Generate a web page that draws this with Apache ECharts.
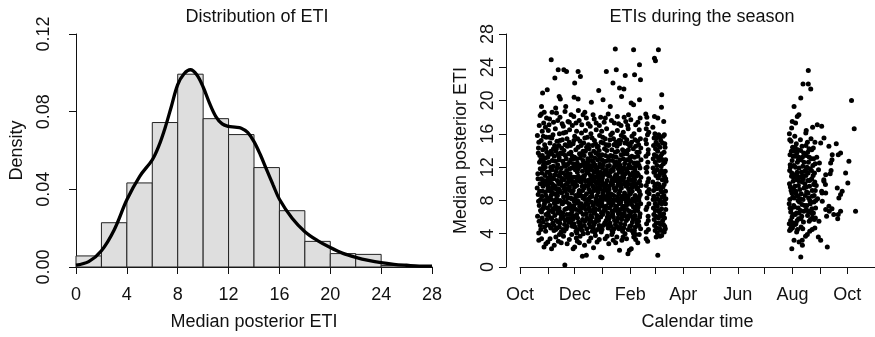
<!DOCTYPE html>
<html>
<head>
<meta charset="utf-8">
<script src="https://cdn.jsdelivr.net/npm/echarts@6/dist/echarts.min.js"></script>
<style>
  html, body { margin: 0; padding: 0; background: #fff; }
  #chart { width: 875px; height: 337px; }
</style>
</head>
<body>
<div id="chart"></div>
<script>
// histogram bins (width 2) and their densities
const binStart = [0, 2, 4, 6, 8, 10, 12, 14, 16, 18, 20, 22, 24, 26];
const binDensity = [0.0057, 0.0228, 0.0433, 0.0744, 0.0993, 0.0764, 0.0682, 0.0512, 0.029, 0.0132, 0.0069, 0.0065, 0.0008, 0.0003];

// kernel density curve
const curveX = [0, 1, 2, 3, 4, 5, 6, 6.5, 7, 7.5, 8, 8.5, 9, 9.5, 10, 10.5, 11, 11.5, 12, 12.5, 13, 13.5, 14, 14.5, 15, 15.5, 16, 17, 18, 19, 20, 21, 22, 23, 24, 25, 26, 27, 28];
const curveY = [0.001, 0.0028, 0.0084, 0.0191, 0.0346, 0.0466, 0.0552, 0.0621, 0.0715, 0.0827, 0.0939, 0.0995, 0.1016, 0.099, 0.0927, 0.0844, 0.0775, 0.0737, 0.0724, 0.072, 0.0715, 0.0693, 0.0646, 0.0578, 0.05, 0.0423, 0.0349, 0.0251, 0.0182, 0.0136, 0.01, 0.007, 0.005, 0.0034, 0.0022, 0.0014, 0.0009, 0.0005, 0.0005];

// calendar axis
const monthTicks = ['2012-10-01', '2012-11-01', '2012-12-01', '2013-01-01', '2013-02-01', '2013-03-01', '2013-04-01',
  '2013-05-01', '2013-06-01', '2013-07-01', '2013-08-01', '2013-09-01', '2013-10-01', '2013-11-01'];
const labelDates = ['2012-10-01', '2012-12-01', '2013-02-01', '2013-04-01', '2013-06-01', '2013-08-01', '2013-10-01'];
const labelNames = ['Oct', 'Dec', 'Feb', 'Apr', 'Jun', 'Aug', 'Oct'];
const seasonStart = '2012-10-01';
const seasonEnd = '2013-11-01';

// [days since 1 Oct, median posterior ETI]
const winterSparse = [
  [34.8, 24.9], [38.9, 22.7], [42.6, 23.7], [48.9, 23.7], [51.9, 23.5], [43.7, 20.5], [45.0, 20.2], [30.4, 21.3], [25.2, 20.9],
  [24.0, 19.3], [40.7, 18.5], [51.0, 19.3], [57.0, 18.3], [60.0, 18.1], [61.0, 22.1], [64.8, 23.5], [67.4, 22.9], [60.4, 20.4],
  [64.8, 20.2], [70.4, 18.3], [81.5, 18.3], [79.6, 19.8], [87.8, 21.2], [96.3, 23.5], [92.6, 20.1], [100.7, 19.3], [106.3, 26.2],
  [107.4, 23.7], [103.7, 22.1], [115.9, 21.4], [113.3, 20.5], [117.4, 23.0], [126.7, 26.1], [127.8, 23.1], [133.3, 24.3],
  [134.4, 22.5], [124.0, 19.7], [126.7, 19.5], [133.3, 20.1], [111.0, 21.5], [95.2, 17.9], [22.5, 18.2], [27.0, 18.6],
  [33.0, 17.8], [47.0, 17.2], [55.0, 17.4], [66.0, 17.6], [74.0, 17.9], [85.0, 17.3], [90.0, 18.0], [102.0, 17.6],
  [110.0, 17.2], [118.0, 17.5], [121.0, 18.3], [129.0, 17.1],
  [21.5, 17.0], [23.8, 18.4], [26.4, 17.3], [29.6, 17.9], [32.4, 17.1], [35.8, 18.6], [37.4, 17.4], [39.8, 19.1], [42.1, 17.6],
  [44.6, 18.0], [48.3, 16.9], [50.2, 18.7], [53.6, 17.5], [58.4, 17.0], [62.5, 17.3], [65.1, 18.8], [68.9, 17.1], [72.3, 18.6],
  [76.1, 17.2], [78.3, 16.9], [82.8, 17.8], [88.5, 17.0], [93.9, 17.4], [98.4, 18.4], [105.2, 17.3], [108.6, 18.1], [112.7, 17.0],
  [116.2, 18.0], [120.1, 17.0], [123.6, 17.7], [131.5, 17.4], [134.0, 17.9],
  [50.0, 0.24], [35.2, 2.2], [59.3, 2.2], [61.0, 2.4], [69.6, 1.3], [74.0, 1.4], [90.0, 1.2], [91.5, 1.1], [111.0, 2.0],
  [120.4, 1.6], [122.0, 2.0], [124.1, 2.2], [28.9, 2.8], [24.0, 3.4], [31.0, 3.0], [40.0, 3.6], [46.0, 2.9], [55.0, 3.3],
  [64.0, 3.1], [72.0, 2.6], [79.0, 3.5], [86.0, 3.0], [95.0, 3.4], [99.0, 2.8], [104.0, 3.2], [115.0, 3.6], [129.0, 3.3],
  [133.0, 3.9], [44.0, 3.9], [67.0, 3.7], [82.0, 2.3], [108.0, 3.6],
  [21.0, 3.2], [26.8, 2.4], [33.5, 3.4], [38.2, 2.6], [42.8, 3.1], [48.5, 3.7], [52.6, 2.8], [57.7, 3.9], [62.8, 3.5], [66.3, 2.9],
  [77.0, 3.1], [84.1, 3.8], [88.4, 3.3], [97.2, 3.7], [102.4, 3.9], [106.7, 2.9], [113.6, 3.2], [118.8, 3.4], [126.9, 3.6], [131.4, 2.9]
];

const winterCore = [
  [19.4, 15.8], [20.6, 14.3], [21.8, 12.6], [19.9, 11.2], [22.4, 10.0], [20.3, 8.7], [21.5, 7.4], [19.6, 6.1], [22.8, 5.0], [20.9, 4.1], [22.1, 13.4], [19.2, 9.5], [23.0, 8.1],
  [23.6, 15.2], [25.4, 14.1], [24.2, 12.9], [26.3, 11.8], [23.9, 10.6], [25.7, 9.7], [24.5, 8.5], [26.7, 7.3], [24.0, 6.6], [25.9, 5.4], [23.3, 4.5], [26.1, 12.2], [24.8, 16.3], [25.1, 10.1],
  [27.5, 14.7], [29.2, 15.6], [28.1, 13.1], [30.4, 12.5], [27.8, 11.0], [29.6, 9.9], [28.4, 9.0], [30.7, 8.2], [27.3, 7.6], [29.0, 6.3], [30.2, 5.1], [28.6, 4.3], [31.0, 10.7], [29.9, 13.8],
  [31.6, 16.4], [33.4, 14.9], [32.1, 13.5], [34.2, 12.0], [31.9, 11.4], [33.7, 10.3], [32.5, 9.2], [34.6, 8.6], [31.3, 7.9], [33.0, 6.8], [34.9, 5.9], [32.7, 5.0], [33.9, 11.1], [31.8, 9.6],
  [35.5, 15.5], [37.3, 14.2], [36.0, 12.8], [38.1, 13.3], [35.8, 11.7], [37.6, 10.6], [36.4, 9.5], [38.5, 8.8], [35.2, 8.1], [37.0, 7.0], [38.8, 6.2], [36.6, 5.3], [37.9, 4.4], [35.9, 10.0],
  [39.4, 16.6], [41.2, 15.1], [39.9, 13.9], [42.0, 12.3], [40.3, 11.5], [41.7, 10.4], [39.2, 9.7], [42.5, 9.0], [40.8, 8.2], [39.6, 7.3], [42.2, 6.5], [40.5, 5.6], [41.4, 4.7], [42.8, 11.0], [40.1, 8.7],
  [43.3, 14.6], [45.1, 13.7], [43.8, 12.9], [46.0, 11.9], [44.2, 10.9], [45.6, 10.2], [43.1, 9.4], [46.4, 8.9], [44.7, 8.0], [43.5, 7.1], [46.1, 6.2], [44.4, 5.3], [45.8, 4.2], [44.0, 16.0],
  [47.2, 15.3], [49.0, 14.0], [47.7, 12.7], [49.9, 12.1], [48.1, 11.3], [49.5, 10.5], [47.0, 9.8], [50.3, 9.1], [48.6, 8.4], [47.4, 7.6], [50.0, 6.9], [48.3, 6.0], [49.7, 5.1], [47.9, 4.5], [50.6, 13.4],
  [51.1, 16.2], [52.9, 14.5], [51.6, 13.0], [53.8, 12.4], [52.0, 11.6], [53.4, 10.8], [51.3, 9.9], [54.2, 9.3], [52.5, 8.7], [51.8, 7.8], [53.9, 7.1], [52.2, 6.3], [54.5, 5.4], [51.5, 4.6], [53.1, 10.1],
  [55.0, 15.0], [56.8, 13.8], [55.5, 12.6], [57.7, 11.9], [55.9, 11.2], [57.3, 10.4], [55.2, 9.6], [58.1, 8.9], [56.4, 8.3], [55.7, 7.4], [57.8, 6.6], [56.1, 5.8], [58.4, 4.9], [56.7, 12.9], [55.3, 16.5],
  [59.2, 14.8], [60.9, 13.2], [59.6, 12.4], [61.8, 11.7], [60.0, 10.8], [61.4, 10.0], [59.3, 9.2], [62.2, 8.6], [60.5, 7.9], [59.8, 7.0], [61.9, 6.1], [60.2, 5.2], [62.5, 4.3], [61.0, 15.7], [62.7, 12.0],
  [63.1, 16.3], [64.9, 14.4], [63.6, 13.0], [65.8, 12.2], [64.0, 11.4], [65.4, 10.6], [63.3, 9.8], [66.2, 9.2], [64.5, 8.5], [63.8, 7.7], [65.9, 6.8], [64.2, 5.9], [66.5, 5.0], [63.5, 4.1], [65.1, 10.9],
  [67.0, 15.1], [68.8, 13.6], [67.5, 12.1], [69.7, 11.5], [67.9, 10.7], [69.3, 9.7], [67.2, 9.0], [70.1, 8.3], [68.4, 7.6], [67.7, 6.6], [69.8, 5.7], [68.1, 4.8], [70.4, 12.8], [68.6, 16.1], [70.6, 4.0],
  [71.1, 14.9], [72.9, 13.9], [71.6, 12.5], [73.8, 11.8], [72.0, 11.0], [73.4, 10.3], [71.3, 9.5], [74.2, 8.8], [72.5, 8.1], [71.8, 7.3], [73.9, 6.4], [72.2, 5.5], [74.5, 4.6], [73.0, 16.4], [74.7, 12.1],
  [75.2, 15.6], [77.0, 14.2], [75.7, 13.0], [77.9, 12.2], [76.1, 11.3], [77.5, 10.5], [75.4, 9.7], [78.3, 9.0], [76.6, 8.2], [75.9, 7.5], [78.0, 6.7], [76.3, 5.7], [78.6, 4.8], [75.6, 4.1], [77.2, 10.0],
  [79.1, 16.0], [80.9, 14.6], [79.6, 13.3], [81.8, 12.6], [80.0, 11.7], [81.4, 10.9], [79.3, 10.1], [82.2, 9.3], [80.5, 8.5], [79.8, 7.8], [81.9, 6.9], [80.2, 6.0], [82.5, 5.1], [80.7, 4.3], [82.7, 11.4],
  [83.0, 15.2], [84.8, 13.7], [83.5, 12.3], [85.7, 11.6], [83.9, 10.8], [85.3, 10.0], [83.2, 9.2], [86.1, 8.6], [84.4, 7.8], [83.7, 7.0], [85.8, 6.2], [84.1, 5.4], [86.4, 4.5], [85.0, 16.5], [86.6, 12.9],
  [87.2, 14.5], [89.0, 13.1], [87.7, 12.0], [89.9, 11.4], [88.1, 10.6], [89.5, 9.8], [87.4, 9.0], [90.3, 8.4], [88.6, 7.7], [87.9, 6.9], [90.0, 6.0], [88.3, 5.0], [90.6, 4.2], [88.8, 15.8], [87.0, 11.0],
  [91.1, 16.3], [92.9, 14.9], [91.6, 13.5], [93.8, 12.7], [92.0, 11.9], [93.4, 11.1], [91.3, 10.3], [94.2, 9.6], [92.5, 8.8], [91.8, 8.0], [93.9, 7.2], [92.2, 6.3], [94.5, 5.3], [91.5, 4.5], [93.1, 10.0],
  [95.0, 15.4], [96.8, 14.0], [95.5, 12.7], [97.7, 12.1], [95.9, 11.3], [97.3, 10.4], [95.2, 9.5], [98.1, 8.9], [96.4, 8.1], [95.7, 7.3], [97.8, 6.5], [96.1, 5.6], [98.4, 4.7], [96.6, 16.6], [98.6, 13.2],
  [99.2, 14.7], [101.0, 13.4], [99.7, 12.2], [101.9, 11.7], [100.1, 10.9], [101.5, 10.1], [99.4, 9.3], [102.3, 8.7], [100.6, 7.9], [99.9, 7.1], [102.0, 6.2], [100.3, 5.3], [102.6, 4.4], [101.2, 15.9], [99.0, 11.0],
  [103.1, 16.1], [104.9, 14.7], [103.6, 13.3], [105.8, 12.4], [104.0, 11.6], [105.4, 10.8], [103.3, 9.9], [106.2, 9.2], [104.5, 8.6], [103.8, 7.7], [105.9, 6.9], [104.2, 6.0], [106.5, 5.1], [103.5, 4.2], [106.7, 11.1],
  [107.0, 15.0], [108.8, 13.9], [107.5, 12.6], [109.7, 11.8], [107.9, 11.0], [109.3, 10.2], [107.2, 9.4], [110.1, 8.8], [108.4, 8.0], [107.7, 7.2], [109.8, 6.4], [108.1, 5.5], [110.4, 4.6], [108.6, 16.4], [110.6, 12.4],
  [111.1, 14.8], [112.9, 13.5], [111.6, 12.2], [113.8, 11.5], [112.0, 10.7], [113.4, 9.9], [111.3, 9.1], [114.2, 8.5], [112.5, 7.8], [111.8, 6.9], [113.9, 6.1], [112.2, 5.2], [114.5, 4.3], [113.0, 15.8], [111.0, 10.3],
  [115.2, 16.2], [117.0, 14.9], [115.7, 13.6], [117.9, 12.8], [116.1, 11.9], [117.5, 11.2], [115.4, 10.4], [118.3, 9.7], [116.6, 8.9], [115.9, 8.2], [118.0, 7.4], [116.3, 6.5], [118.6, 5.6], [115.6, 4.7], [117.2, 4.0],
  [119.1, 15.3], [120.9, 14.1], [119.6, 12.9], [121.8, 12.3], [120.0, 11.4], [121.4, 10.6], [119.3, 9.8], [122.2, 9.0], [120.5, 8.3], [119.8, 7.5], [121.9, 6.7], [120.2, 5.8], [122.5, 4.9], [120.7, 16.6], [122.7, 13.2],
  [123.0, 14.6], [124.8, 13.3], [123.5, 12.0], [125.7, 11.3], [123.9, 10.5], [125.3, 9.6], [123.2, 8.8], [126.1, 8.2], [124.4, 7.5], [123.7, 6.6], [125.8, 5.9], [124.1, 5.0], [126.4, 4.1], [124.9, 15.7], [126.6, 10.9],
  [127.2, 16.0], [129.0, 14.5], [127.7, 13.2], [129.9, 12.5], [128.1, 11.7], [129.5, 10.9], [127.4, 10.1], [130.3, 9.4], [128.6, 8.6], [127.9, 7.9], [130.0, 7.1], [128.3, 6.2], [130.6, 5.3], [127.6, 4.4], [129.2, 3.9],
  [131.1, 15.1], [132.9, 13.8], [131.6, 12.5], [133.8, 11.9], [132.0, 11.1], [133.4, 10.3], [131.3, 9.5], [134.2, 8.7], [132.5, 8.0], [131.8, 7.2], [133.9, 6.4], [132.2, 5.5], [134.5, 4.6], [133.0, 16.5], [134.7, 14.3]
];

const winterFill = [
  [21.0, 15.0], [22.6, 11.8], [20.1, 10.6], [21.9, 9.1], [20.7, 7.9], [22.9, 6.8], [21.3, 5.5], [23.4, 12.9], [20.4, 13.7],
  [24.9, 13.4], [26.8, 12.6], [24.3, 11.3], [26.5, 10.4], [25.2, 9.1], [27.1, 8.0], [25.5, 7.0], [24.6, 5.9], [27.4, 4.8], [26.0, 15.7],
  [28.9, 14.3], [30.9, 13.2], [28.2, 12.0], [30.0, 11.4], [29.3, 10.3], [31.3, 9.4], [28.7, 8.6], [30.5, 7.1], [29.8, 5.7], [31.5, 6.5], [28.3, 16.8],
  [32.9, 15.6], [34.5, 13.9], [32.3, 12.6], [34.8, 11.7], [33.2, 10.7], [31.5, 10.1], [34.1, 9.1], [32.8, 8.3], [33.6, 7.4], [31.7, 6.2], [34.3, 4.7],
  [36.8, 15.9], [38.6, 14.6], [35.4, 13.6], [37.1, 12.1], [38.9, 11.1], [36.2, 10.7], [37.8, 9.8], [35.6, 9.0], [38.3, 7.7], [36.9, 6.6], [35.3, 5.8], [38.0, 5.0],
  [40.6, 14.2], [42.4, 13.5], [39.5, 12.7], [41.1, 11.9], [42.9, 10.2], [40.0, 9.4], [41.8, 8.6], [39.3, 8.0], [41.6, 6.9], [42.7, 5.4], [39.8, 4.5], [41.9, 7.8],
  [44.6, 15.2], [46.5, 14.3], [43.6, 13.2], [45.3, 11.4], [46.8, 10.6], [43.4, 10.0], [45.0, 9.1], [46.9, 7.6], [44.2, 6.7], [45.5, 5.8], [43.9, 4.8],
  [48.4, 16.1], [50.4, 14.7], [47.5, 13.6], [48.8, 12.4], [50.8, 11.0], [47.3, 10.6], [48.9, 9.5], [49.2, 7.9], [47.6, 6.5], [50.5, 5.6], [49.1, 4.3],
  [52.4, 15.4], [54.4, 13.6], [51.9, 12.2], [53.0, 11.2], [54.7, 10.4], [51.2, 9.4], [53.2, 8.3], [54.8, 7.6], [51.4, 7.0], [53.5, 5.8], [52.7, 4.9],
  [56.3, 14.6], [58.3, 13.3], [55.4, 11.8], [56.9, 10.8], [58.6, 10.0], [55.8, 9.2], [57.6, 8.2], [56.9, 7.0], [55.2, 6.3], [57.4, 5.3], [58.9, 6.1],
  [60.2, 15.2], [62.3, 14.1], [59.7, 13.0], [61.2, 12.2], [62.9, 10.8], [59.5, 10.2], [60.8, 9.6], [61.6, 8.2], [60.1, 7.4], [62.6, 6.9], [59.4, 5.8], [61.3, 4.8],
  [64.3, 15.4], [66.4, 13.6], [63.9, 12.5], [65.0, 11.8], [66.8, 10.3], [63.7, 10.4], [65.6, 8.9], [64.9, 7.9], [66.6, 7.3], [63.2, 6.3], [65.3, 5.4], [64.6, 4.5],
  [68.2, 14.6], [70.3, 13.9], [67.3, 13.1], [69.1, 12.3], [70.7, 10.9], [68.5, 10.2], [69.9, 9.2], [67.8, 8.6], [68.9, 7.1], [70.5, 6.3], [67.4, 5.3], [69.4, 4.4],
  [72.3, 15.5], [74.3, 14.4], [71.5, 13.4], [72.8, 12.0], [74.8, 11.4], [71.4, 10.6], [73.0, 9.8], [71.9, 8.5], [73.6, 7.6], [74.6, 5.9], [71.7, 5.0], [73.3, 6.9],
  [76.4, 14.7], [78.4, 13.6], [75.3, 12.6], [76.8, 11.8], [78.7, 11.0], [75.8, 10.4], [76.9, 9.3], [78.5, 8.4], [75.5, 8.0], [77.1, 7.1], [78.9, 6.2], [77.4, 5.2],
  [80.4, 15.5], [82.3, 13.9], [79.4, 12.8], [80.8, 12.1], [82.8, 10.3], [79.9, 10.6], [81.2, 9.7], [80.0, 8.9], [81.6, 7.4], [82.9, 6.5], [79.5, 5.5], [81.7, 4.7],
  [84.2, 14.8], [86.3, 14.4], [83.4, 13.1], [84.9, 11.9], [86.8, 11.2], [83.2, 10.4], [85.6, 9.5], [84.7, 8.2], [86.5, 7.5], [83.3, 6.6], [85.4, 5.8], [83.6, 4.2],
  [88.3, 14.0], [90.4, 15.0], [87.4, 13.5], [88.9, 12.4], [90.7, 10.9], [87.5, 10.2], [89.2, 9.4], [88.0, 8.0], [89.6, 7.3], [90.9, 6.5], [87.6, 5.6], [89.4, 4.6],
  [92.3, 15.6], [94.3, 14.2], [91.4, 12.9], [92.7, 12.3], [94.8, 11.5], [91.9, 10.7], [93.6, 9.9], [92.9, 9.2], [94.7, 8.4], [91.2, 7.6], [93.1, 6.7], [92.6, 5.0],
  [96.2, 14.7], [98.3, 14.6], [95.4, 13.4], [96.5, 11.7], [98.7, 11.0], [95.6, 10.0], [97.0, 9.2], [96.8, 8.5], [98.9, 7.7], [95.3, 6.9], [97.5, 6.0], [96.9, 5.1],
  [100.4, 15.3], [102.4, 14.1], [99.5, 12.8], [100.8, 11.4], [102.8, 10.5], [99.6, 9.7], [101.0, 8.8], [100.0, 8.3], [101.6, 7.4], [102.9, 6.7], [99.3, 5.8], [101.4, 4.9],
  [104.3, 15.4], [106.4, 13.8], [103.2, 12.8], [104.6, 12.0], [106.8, 10.4], [103.9, 10.3], [105.1, 9.5], [104.8, 8.1], [106.6, 7.3], [103.4, 6.4], [105.5, 5.6], [104.9, 4.6],
  [108.2, 14.5], [110.3, 15.2], [107.3, 13.2], [108.9, 12.2], [110.8, 11.4], [107.6, 10.6], [109.0, 9.8], [108.8, 8.4], [110.6, 7.6], [107.4, 6.8], [109.3, 5.9], [108.5, 4.8],
  [112.3, 15.2], [114.4, 14.1], [111.4, 12.9], [112.7, 11.9], [114.7, 11.1], [111.9, 10.5], [113.1, 9.5], [112.8, 8.2], [114.6, 7.3], [111.2, 6.5], [113.4, 5.7], [112.6, 4.7],
  [116.3, 15.6], [118.4, 13.9], [115.3, 13.0], [116.7, 12.4], [118.8, 11.6], [115.8, 10.8], [116.9, 10.0], [117.1, 8.6], [118.6, 7.8], [115.4, 7.0], [117.5, 6.1], [116.8, 5.1],
  [120.3, 14.8], [122.3, 14.6], [119.4, 13.6], [120.6, 11.9], [122.8, 11.1], [119.9, 10.2], [121.1, 9.4], [120.9, 8.6], [122.6, 7.9], [119.5, 6.9], [121.6, 6.2], [120.8, 4.5],
  [124.4, 15.0], [126.4, 14.2], [123.3, 12.7], [124.7, 11.9], [126.8, 10.2], [123.6, 9.9], [125.1, 9.1], [124.9, 8.0], [126.6, 7.2], [123.4, 6.2], [125.4, 5.4], [124.6, 4.4],
  [128.3, 15.3], [130.4, 13.8], [127.3, 12.5], [128.8, 12.1], [130.8, 11.3], [127.8, 10.5], [129.0, 9.7], [128.9, 8.2], [130.5, 7.5], [127.5, 6.7], [129.4, 5.7], [128.7, 4.8],
  [132.3, 14.7], [134.3, 15.4], [131.4, 13.3], [132.7, 12.2], [134.8, 10.8], [131.9, 10.1], [133.1, 9.1], [132.9, 8.4], [134.6, 7.6], [131.2, 6.8], [133.4, 6.0], [132.6, 5.0], [135.0, 12.9], [135.1, 9.8]
];

const marchPoints = [
  [140.3, 18.4], [141.5, 18.0], [140.8, 16.6], [142.2, 15.9], [141.0, 14.8], [143.1, 14.1], [140.5, 13.3], [142.6, 12.6], [141.3, 11.4],
  [143.5, 10.6], [140.9, 9.8], [142.0, 9.0], [141.7, 8.3], [143.8, 7.6], [140.6, 6.9], [142.9, 6.1], [141.2, 5.2], [143.3, 4.5],
  [140.7, 3.4], [142.4, 3.1], [141.8, 12.0], [144.0, 8.8],
  [148.2, 16.8], [150.5, 16.0], [152.3, 15.5], [154.8, 15.9], [157.0, 15.2], [159.6, 15.7], [161.5, 14.8], [149.0, 14.6], [151.2, 14.2],
  [153.6, 13.9], [156.1, 14.4], [158.4, 13.6], [160.7, 13.8], [162.4, 12.9], [148.6, 13.0], [150.9, 12.6], [152.8, 12.2], [155.2, 12.8],
  [157.5, 12.1], [159.9, 12.4], [162.0, 11.5], [149.4, 11.4], [151.6, 11.0], [154.0, 10.7], [156.4, 11.3], [158.7, 10.5], [161.1, 10.9],
  [148.1, 10.2], [150.3, 9.7], [152.5, 9.4], [155.0, 9.9], [157.2, 9.2], [159.4, 9.6], [162.3, 9.1], [149.2, 8.5], [151.5, 8.1],
  [153.8, 8.7], [156.0, 8.0], [158.3, 8.4], [160.6, 7.9], [148.8, 7.1], [151.0, 6.8], [153.1, 7.3], [155.6, 6.6], [157.9, 7.0],
  [160.2, 6.4], [162.6, 6.9], [149.7, 5.7], [152.0, 5.3], [154.4, 5.9], [156.7, 5.1], [159.1, 5.6], [161.4, 4.9], [150.8, 4.4],
  [153.3, 4.1], [155.9, 4.6], [158.0, 3.8], [160.9, 4.2], [162.7, 8.2], [162.9, 10.3], [161.8, 14.4],
  [150.0, 25.1], [151.1, 24.8], [154.4, 26.1], [158.1, 20.7], [157.8, 19.2], [153.7, 17.9], [150.0, 18.1], [160.3, 17.5], [153.7, 1.4],
  [141.9, 17.2], [143.6, 16.2], [140.2, 15.3], [142.9, 13.6], [140.4, 11.9], [142.5, 10.2], [143.9, 9.3], [141.6, 7.2], [143.1, 5.6], [140.8, 4.2],
  [149.6, 15.5], [151.8, 15.0], [153.9, 14.7], [156.5, 15.6], [158.9, 14.9], [161.0, 15.9], [149.9, 13.5], [152.2, 13.3], [154.6, 13.0],
  [156.8, 13.3], [159.2, 12.9], [161.5, 12.6], [148.4, 11.9], [150.6, 11.5], [153.0, 11.7], [155.5, 11.0], [157.9, 11.6], [160.3, 11.3],
  [162.5, 10.6], [149.0, 9.2], [151.3, 9.9], [153.5, 10.0], [156.0, 9.5], [158.4, 9.0], [160.8, 9.9], [148.5, 8.1], [150.8, 7.6],
  [153.2, 8.2], [155.7, 7.7], [158.1, 7.6], [160.5, 8.6], [162.2, 7.6], [149.3, 6.3], [151.7, 6.1], [154.1, 6.8], [156.5, 6.2],
  [158.8, 6.1], [161.2, 5.9], [150.1, 5.0], [152.6, 4.7], [155.2, 5.3], [157.6, 4.4], [160.0, 5.1], [162.1, 4.6], [151.9, 3.6], [156.3, 3.7]
];

const augustPoints = [
  [300.5, 16.0], [302.3, 15.1], [304.1, 14.4], [301.2, 13.5], [303.6, 12.8], [305.4, 12.2], [300.8, 11.6], [302.9, 10.9], [304.7, 10.3],
  [301.6, 9.6], [303.3, 8.9], [305.8, 8.3], [300.3, 7.6], [302.6, 7.0], [304.4, 6.3], [301.9, 5.6], [303.9, 4.9], [300.7, 4.4],
  [306.5, 15.7], [308.2, 14.8], [310.0, 14.1], [307.1, 13.3], [309.4, 12.6], [311.3, 11.9], [306.8, 11.1], [308.7, 10.5], [310.5, 9.8],
  [307.5, 9.1], [309.9, 8.5], [311.7, 7.8], [306.3, 7.2], [308.4, 6.5], [310.8, 5.8], [307.8, 5.2], [309.6, 4.5], [311.0, 13.2],
  [312.8, 15.3], [314.6, 14.5], [316.4, 13.7], [313.2, 12.9], [315.5, 12.1], [317.3, 11.5], [312.5, 10.8], [314.9, 10.2], [316.9, 9.5],
  [313.7, 8.8], [315.8, 8.1], [317.6, 7.4], [312.9, 6.8], [314.3, 6.1], [316.2, 5.4], [313.5, 4.8], [318.8, 16.1], [320.6, 15.0],
  [322.4, 14.2], [319.3, 13.4], [321.7, 12.6], [323.5, 11.8], [319.0, 11.0], [321.1, 10.4], [322.9, 9.7], [319.7, 9.0], [321.9, 8.3],
  [323.8, 7.6], [319.4, 6.9], [320.8, 6.2], [322.6, 5.5], [324.9, 13.0], [326.7, 12.2], [328.5, 11.3], [325.3, 10.6], [327.6, 9.9],
  [329.4, 9.2], [325.8, 8.5], [327.9, 7.8], [329.7, 7.1], [326.1, 6.4], [328.3, 5.7], [324.6, 15.4], [327.2, 14.3], [329.0, 15.0],
  [326.4, 16.8], [301.4, 12.3], [305.0, 9.4], [302.0, 6.6], [306.0, 13.9], [309.1, 11.4], [312.1, 9.3], [315.1, 11.0], [318.2, 8.6],
  [303.0, 16.7], [301.0, 8.1], [304.9, 5.3], [320.1, 12.0], [310.3, 7.1],
  [300.9, 15.3], [302.7, 13.9], [304.6, 13.3], [301.7, 12.0], [303.2, 11.3], [305.1, 10.8], [300.6, 10.0], [302.4, 9.2], [304.2, 8.4],
  [301.3, 7.1], [303.5, 6.0], [305.3, 7.4], [300.4, 5.2], [302.1, 4.7], [306.9, 14.4], [308.8, 13.7], [310.6, 12.9], [307.3, 12.0],
  [309.7, 10.9], [311.5, 10.3], [306.6, 9.7], [308.1, 8.8], [310.2, 8.0], [307.0, 6.3], [309.2, 5.6], [311.4, 6.5], [308.6, 4.2],
  [313.0, 14.0], [315.0, 13.2], [316.8, 12.6], [313.9, 11.4], [316.0, 10.6], [317.8, 10.0], [312.7, 8.2], [314.6, 7.5], [316.6, 6.7],
  [313.3, 5.8], [315.4, 4.6], [318.9, 14.6], [320.9, 13.8], [322.7, 13.2], [319.6, 11.8], [321.4, 11.3], [323.1, 10.4], [319.2, 9.6],
  [321.3, 8.9], [323.3, 8.0], [320.0, 7.4], [321.8, 6.6], [324.0, 5.7], [325.4, 14.1], [327.5, 13.0], [329.3, 12.4], [325.1, 11.6],
  [327.0, 11.0], [328.8, 10.2], [326.0, 9.2], [328.1, 8.6], [330.0, 8.0], [325.6, 7.0], [327.3, 6.5], [329.5, 5.9],
  [321.6, 23.6], [315.7, 22.0], [321.6, 22.0], [324.3, 21.4], [313.2, 20.3], [305.7, 19.3], [369.8, 20.0], [372.8, 16.6],
  [309.3, 18.1], [311.1, 18.3], [303.7, 17.5], [307.4, 17.3], [331.6, 17.1], [336.5, 16.9], [319.3, 16.4], [335.4, 14.9],
  [339.1, 15.5], [344.6, 14.5], [352.8, 14.8], [357.6, 13.7], [355.0, 13.5], [348.3, 13.5], [366.9, 12.7], [363.2, 11.3],
  [365.7, 10.1], [348.0, 12.9], [346.5, 12.5], [347.0, 11.6], [346.0, 11.2], [341.0, 11.1], [339.0, 10.3], [336.5, 9.1],
  [341.0, 8.9], [353.9, 9.5], [359.4, 9.1], [355.7, 8.3], [357.6, 8.7], [337.2, 7.9], [344.6, 7.3], [341.0, 6.9], [348.0, 7.0],
  [345.0, 6.7], [357.6, 6.7], [355.0, 6.3], [374.3, 6.7], [342.0, 6.1], [350.0, 6.3], [354.4, 5.8], [333.5, 5.5], [332.8, 3.6],
  [335.4, 3.2], [342.8, 2.4], [313.2, 1.2], [303.2, 2.2], [305.7, 3.2], [311.3, 3.0], [315.0, 2.6], [303.9, 4.7], [306.8, 5.1],
  [320.5, 3.9], [323.2, 4.3], [326.0, 5.9], [323.2, 6.7], [325.9, 4.5], [328.9, 4.7], [318.5, 3.7], [314.8, 3.2], [301.9, 4.5],
  [331.0, 13.2], [333.0, 11.7], [330.5, 9.8], [332.0, 8.2], [334.0, 12.5], [338.9, 10.5], [340.7, 9.9], [337.0, 8.9]
];

const DAY = 86400000;
const t0 = Date.parse(seasonStart);
const toTime = (pts) => pts.map((p) => [t0 + p[0] * DAY, p[1]]);
const scatterData = toTime(winterSparse.concat(winterCore, winterFill, marchPoints, augustPoints));

const font = 'Liberation Sans, Arial, Helvetica, sans-serif';
const ink = '#111';
const axisCommon = {
  axisLine: { show: true, lineStyle: { color: ink, width: 1 } },
  axisTick: { show: true, length: 7, lineStyle: { color: ink, width: 1 } },
  splitLine: { show: false },
  nameTextStyle: { fontFamily: font, fontSize: 18, color: ink },
};
const labelCommon = { fontFamily: font, fontSize: 18, color: ink };

const chart = echarts.init(document.getElementById('chart'), null, { renderer: 'canvas' });

chart.setOption({
  animation: false,
  backgroundColor: '#fff',
  title: [
    { text: 'Distribution of ETI', left: 252, top: 3, textAlign: 'center',
      textStyle: { fontFamily: font, fontSize: 18, fontWeight: 'normal', color: ink } },
    { text: 'ETIs during the season', left: 697, top: 3, textAlign: 'center',
      textStyle: { fontFamily: font, fontSize: 18, fontWeight: 'normal', color: ink } },
  ],
  grid: [
    { left: 76, top: 34, width: 356, height: 233 },
    { left: 520, top: 34, width: 355, height: 233 },
  ],
  xAxis: [
    {
      ...axisCommon,
      gridIndex: 0, type: 'value', min: 0, max: 28, interval: 4, offset: 9,
      name: 'Median posterior ETI', nameLocation: 'middle', nameGap: 37,
      axisLabel: { ...labelCommon, margin: 10 },
    },
    {
      ...axisCommon,
      gridIndex: 1, type: 'value', min: t0, max: Date.parse(seasonEnd), offset: 9,
      name: 'Calendar time', nameLocation: 'middle', nameGap: 37,
      axisTick: { ...axisCommon.axisTick, customValues: monthTicks.map((d) => Date.parse(d)) },
      axisLabel: {
        ...labelCommon, margin: 10,
        customValues: labelDates.map((d) => Date.parse(d)),
        formatter: (v) => {
          const i = labelDates.findIndex((d) => Date.parse(d) === v);
          return i >= 0 ? labelNames[i] : '';
        },
      },
    },
  ],
  yAxis: [
    {
      ...axisCommon,
      gridIndex: 0, type: 'value', min: 0, max: 0.12, interval: 0.04, offset: 14,
      name: 'Density', nameLocation: 'middle', nameGap: 36, nameRotate: 90,
      axisLabel: { ...labelCommon, rotate: 90, margin: 9, formatter: (v) => v.toFixed(2) },
    },
    {
      ...axisCommon,
      gridIndex: 1, type: 'value', min: 0, max: 28, interval: 4, offset: 14,
      name: 'Median posterior ETI', nameLocation: 'middle', nameGap: 36, nameRotate: 90,
      axisLabel: { ...labelCommon, rotate: 90, margin: 9 },
    },
  ],
  series: [
    {
      type: 'custom',
      xAxisIndex: 0, yAxisIndex: 0,
      data: binStart.map((b, i) => [b, b + 2, binDensity[i]]),
      encode: { x: [0, 1], y: 2 },
      renderItem: (params, api) => {
        const p0 = api.coord([api.value(0), 0]);
        const p1 = api.coord([api.value(1), api.value(2)]);
        return {
          type: 'rect',
          shape: { x: p0[0], y: p1[1], width: p1[0] - p0[0], height: p0[1] - p1[1] },
          style: { fill: '#dedede', stroke: '#222', lineWidth: 1 },
        };
      },
      z: 1,
    },
    {
      type: 'line',
      xAxisIndex: 0, yAxisIndex: 0,
      data: curveX.map((x, i) => [x, curveY[i]]),
      smooth: 0.35,
      showSymbol: false,
      symbol: 'none',
      lineStyle: { color: '#000', width: 3.3 },
      z: 3,
    },
    {
      type: 'scatter',
      xAxisIndex: 1, yAxisIndex: 1,
      data: scatterData,
      symbolSize: 5,
      itemStyle: { color: '#000', opacity: 1 },
      clip: false,
      large: false,
    },
  ],
});
</script>
</body>
</html>
